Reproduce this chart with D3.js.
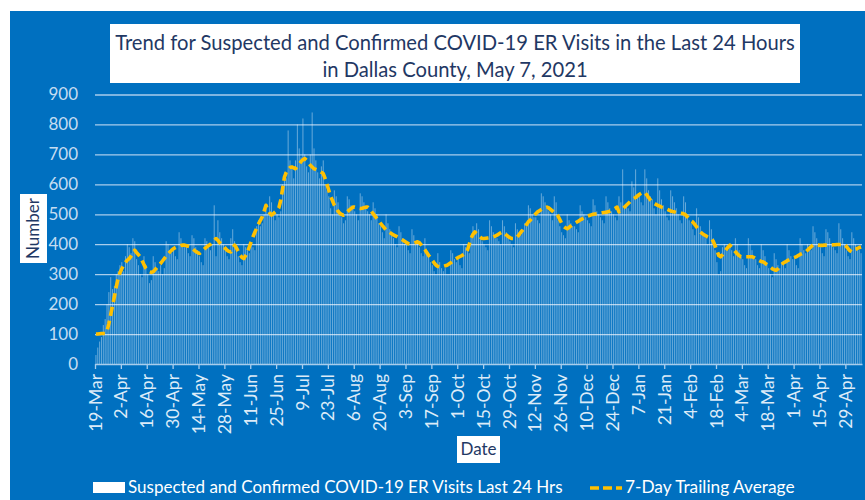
<!DOCTYPE html>
<html>
<head>
<meta charset="utf-8">
<script src="https://cdn.jsdelivr.net/npm/d3@7"></script>
<style>
  html, body { margin: 0; padding: 0; background: #fff; }
  svg { display: block; font-family: Lato, "Open Sans", sans-serif; }
</style>
</head>
<body>
<div class="chart"></div>
<script>
// x-axis labels, one every 14 days starting 19-Mar-2020
const tickLabels = ["19-Mar","2-Apr","16-Apr","30-Apr","14-May","28-May","11-Jun","25-Jun","9-Jul","23-Jul",
  "6-Aug","20-Aug","3-Sep","17-Sep","1-Oct","15-Oct","29-Oct","12-Nov","26-Nov","10-Dec",
  "24-Dec","7-Jan","21-Jan","4-Feb","18-Feb","4-Mar","18-Mar","1-Apr","15-Apr","29-Apr"];

const yTicks = [0, 100, 200, 300, 400, 500, 600, 700, 800, 900];

// daily suspected + confirmed ER visits (19-Mar-2020 .. 7-May-2021), 14 days per row
const dailyVisits = [
  30,55,75,90,130,150,200,240,290,250,260,300,310,330,
  340,310,360,400,390,370,420,410,350,330,300,290,360,330,
  300,270,280,360,340,320,310,330,300,320,410,400,380,370,
  390,360,350,440,420,400,390,400,370,360,430,420,390,380,
  360,340,330,420,410,390,380,400,530,360,480,440,420,400,
  390,360,350,420,450,410,380,360,340,330,400,390,380,370,
  400,390,380,460,480,460,470,500,520,500,560,540,500,480,
  500,490,510,600,640,620,780,680,660,620,680,800,720,690,
  820,700,660,640,700,840,720,680,640,620,660,680,600,580,
  560,520,500,580,560,540,500,490,470,480,560,550,530,520,
  510,500,480,570,560,540,520,510,500,480,540,520,500,470,
  460,440,420,500,470,450,430,420,400,390,460,440,420,400,
  400,380,370,450,430,410,400,390,370,360,420,380,360,340,
  330,310,300,370,340,320,310,320,300,300,380,370,350,340,
  350,330,320,400,390,380,370,430,460,440,470,450,420,410,
  400,390,380,480,460,440,420,420,410,400,480,460,440,420,
  410,400,390,470,450,440,430,450,470,460,530,520,500,490,
  490,480,470,570,560,540,520,510,500,480,560,540,480,460,
  440,430,420,500,480,470,460,460,450,440,530,510,500,490,
  480,470,460,550,530,510,500,490,480,470,560,540,520,510,
  500,490,480,560,540,650,520,530,520,510,610,590,650,560,
  560,540,530,650,620,580,560,550,520,500,620,580,550,530,
  510,490,480,580,560,540,520,500,480,470,560,540,500,480,
  470,450,430,520,490,460,440,430,420,400,480,450,420,380,
  340,300,310,390,400,390,380,400,380,360,420,400,380,360,
  350,330,320,420,400,380,360,350,330,320,400,380,360,340,
  320,300,290,370,350,330,320,340,330,320,400,380,360,350,
  350,330,320,420,400,380,370,400,390,380,460,440,420,400,
  390,370,360,450,440,420,400,390,380,370,470,450,420,400,
  380,360,350,440,420,400,390,380,370
];

// 7-day trailing average, same days
const trailingAvg = [
  100,100,101,102,102,102,110,135,165,195,225,258,285,305,
  318,330,340,347,352,360,370,380,372,365,358,345,332,320,
  312,308,306,308,315,322,330,336,344,352,360,367,374,380,
  385,389,392,394,396,397,397,395,393,391,386,381,376,372,
  369,374,380,386,391,396,400,406,412,419,413,405,398,392,
  386,380,376,374,386,397,388,376,364,356,352,362,375,391,
  408,425,440,454,468,480,491,510,530,515,504,497,502,508,
  513,522,547,585,624,640,650,656,658,655,652,660,668,676,
  682,686,680,672,664,658,652,650,647,644,640,636,620,600,
  580,560,545,530,520,510,503,499,497,502,508,514,519,524,
  524,522,520,519,520,522,524,524,518,510,502,494,486,478,
  470,462,455,447,443,439,435,431,428,425,422,418,414,410,
  406,402,401,402,404,406,408,405,398,390,382,372,363,355,
  346,338,330,326,324,324,326,328,330,334,338,343,348,352,
  356,359,362,366,369,380,400,420,433,441,436,430,424,419,
  419,420,421,422,423,424,427,430,434,438,441,436,431,426,
  422,419,419,419,424,432,441,448,457,466,475,480,488,495,
  502,508,512,516,520,522,524,521,516,511,506,504,495,482,
  470,460,455,452,456,461,466,469,473,477,481,484,488,490,
  494,496,498,500,501,502,503,504,505,506,507,508,510,513,
  516,520,524,508,514,519,524,530,536,542,548,552,556,561,
  566,570,574,572,565,556,548,541,537,533,530,527,524,522,
  520,517,514,511,509,508,506,505,504,503,502,498,492,485,
  478,474,466,458,450,441,436,432,428,424,421,419,410,395,
  380,362,358,365,374,382,390,397,390,382,375,368,362,358,
  358,358,358,358,358,358,356,352,348,345,342,341,337,332,
  328,323,318,315,313,318,325,332,338,341,345,348,351,354,
  356,358,362,366,369,372,374,380,386,392,397,398,398,397,
  396,396,397,397,397,397,397,398,398,399,399,399,400,399,
  393,385,378,374,378,383,386,389,391
];

const width = 865, height = 500;
const plot = { left: 95, right: 862, top: 94.5, bottom: 364 };
const blue = "#0070C0", gold = "#FFC000", navy = "#1F3864";

const svg = d3.select(".chart").append("svg")
  .attr("width", width)
  .attr("height", height);

// background panel
svg.append("rect")
  .attr("x", 10).attr("y", 11)
  .attr("width", width - 10).attr("height", height - 11)
  .attr("fill", blue);

// scales
const days = d3.range(dailyVisits.length);
const x = d3.scaleBand()
  .domain(days)
  .range([plot.left, plot.right]);
const xDay = d3.scaleLinear()
  .domain([0, dailyVisits.length])
  .range([plot.left, plot.right]);
const y = d3.scaleLinear()
  .domain([0, 900])
  .range([plot.bottom, plot.top]);

// y grid + labels
svg.append("g")
  .attr("class", "y axis")
  .attr("transform", `translate(${plot.left},0)`)
  .call(d3.axisLeft(y).tickValues(yTicks).tickSize(-(plot.right - plot.left)).tickPadding(17))
  .call(g => g.select(".domain").remove())
  .call(g => g.selectAll(".tick line")
    .attr("stroke", "#A9CDEC").attr("stroke-width", 1.3)
    .attr("stroke-opacity", d => d === 0 ? 0 : 1))
  .call(g => g.selectAll(".tick text")
    .attr("fill", "#C5DDF1").attr("font-size", 17).attr("font-family", "Lato, sans-serif"));

// daily bars
const barW = x.bandwidth() * 0.55;
svg.append("g")
  .selectAll("rect")
  .data(dailyVisits)
  .join("rect")
  .attr("x", (d, i) => x(i) + (x.bandwidth() - barW) / 2)
  .attr("y", d => y(d))
  .attr("width", barW)
  .attr("height", d => y(0) - y(d))
  .attr("fill", "#fff")
  .attr("fill-opacity", 0.4);

// x axis
svg.append("g")
  .attr("class", "x axis")
  .attr("transform", `translate(0,${plot.bottom})`)
  .call(d3.axisBottom(xDay)
    .tickValues(tickLabels.map((t, i) => i * 14))
    .tickFormat(d => tickLabels[d / 14])
    .tickSize(5).tickSizeOuter(0))
  .call(g => g.select(".domain").attr("stroke", "#A9CDEC").attr("stroke-width", 1.3))
  .call(g => g.selectAll(".tick line").attr("stroke", "#A9CDEC").attr("stroke-width", 1.3))
  .call(g => g.selectAll(".tick text")
    .attr("fill", "#DCEBF8")
    .attr("font-size", 17.5)
    .attr("font-family", "Lato, sans-serif")
    .attr("transform", "rotate(-90)")
    .attr("text-anchor", "end")
    .attr("x", -10)
    .attr("y", 0)
    .attr("dy", "0.35em"));

// 7-day trailing average
const line = d3.line()
  .x((d, i) => x(i) + x.bandwidth() / 2)
  .y(d => y(d));

svg.append("path")
  .datum(trailingAvg)
  .attr("fill", "none")
  .attr("stroke", gold)
  .attr("stroke-width", 3.6)
  .attr("stroke-dasharray", "9,5")
  .attr("stroke-linejoin", "round")
  .attr("d", line);

// title box
svg.append("rect")
  .attr("x", 110).attr("y", 24)
  .attr("width", 690).attr("height", 59)
  .attr("fill", "#fff");

const title = svg.append("text")
  .attr("text-anchor", "middle")
  .attr("fill", navy)
  .attr("font-size", 20.2);
title.append("tspan").attr("x", 455).attr("y", 50)
  .text("Trend for Suspected and Confirmed COVID-19 ER Visits in the Last 24 Hours");
title.append("tspan").attr("x", 455).attr("y", 77)
  .text("in Dallas County, May 7, 2021");

// y axis title
svg.append("rect")
  .attr("x", 20).attr("y", 194)
  .attr("width", 27).attr("height", 69)
  .attr("fill", "#fff");
svg.append("text")
  .attr("transform", "translate(39,228.5) rotate(-90)")
  .attr("text-anchor", "middle")
  .attr("fill", navy)
  .attr("font-size", 17)
  .text("Number");

// x axis title
svg.append("rect")
  .attr("x", 457).attr("y", 436)
  .attr("width", 43).attr("height", 27)
  .attr("fill", "#fff");
svg.append("text")
  .attr("x", 478.5).attr("y", 455)
  .attr("text-anchor", "middle")
  .attr("fill", navy)
  .attr("font-size", 17)
  .text("Date");

// legend
svg.append("rect")
  .attr("x", 93).attr("y", 482)
  .attr("width", 32).attr("height", 11)
  .attr("fill", "#fff");
svg.append("text")
  .attr("x", 128).attr("y", 493)
  .attr("fill", "#fff")
  .attr("font-size", 17)
  .text("Suspected and Confirmed COVID-19 ER Visits Last 24 Hrs");

svg.append("line")
  .attr("x1", 590).attr("x2", 622)
  .attr("y1", 488).attr("y2", 488)
  .attr("stroke", gold)
  .attr("stroke-width", 3.6)
  .attr("stroke-dasharray", "9,4");
svg.append("text")
  .attr("x", 625).attr("y", 493)
  .attr("fill", "#fff")
  .attr("font-size", 17.3)
  .text("7-Day Trailing Average");
</script>
</body>
</html>
